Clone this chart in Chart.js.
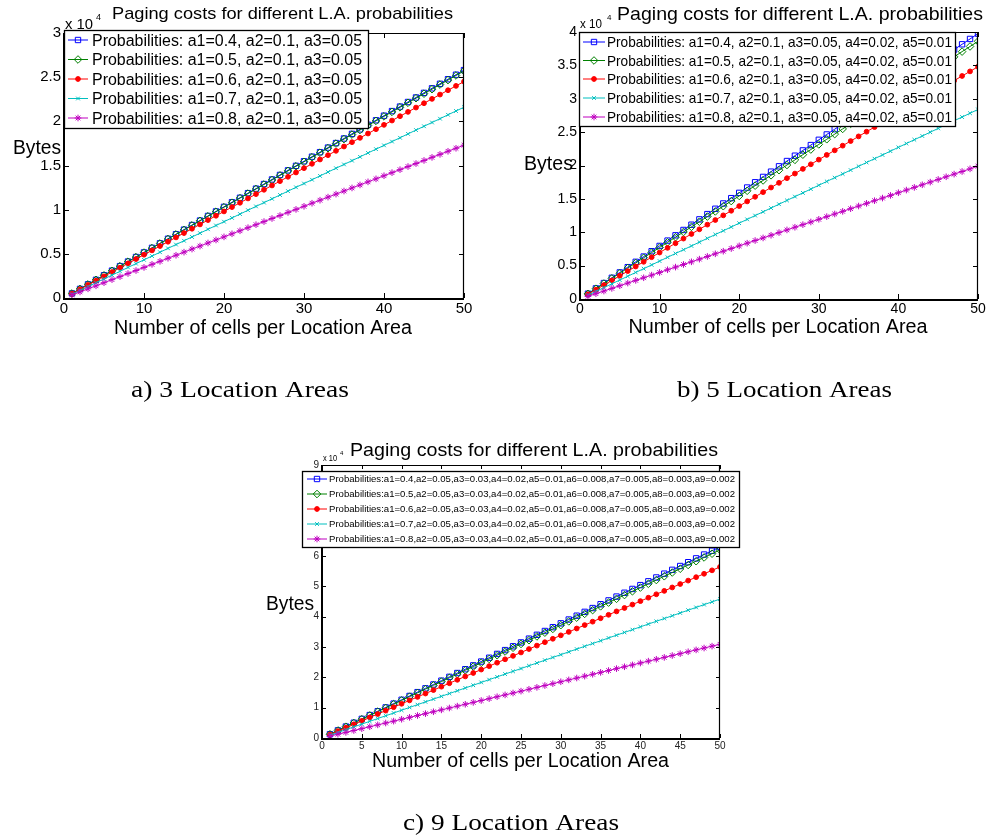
<!DOCTYPE html>
<html><head><meta charset="utf-8">
<script src="https://cdn.jsdelivr.net/npm/chart.js@4/dist/chart.umd.min.js"></script>
<style>
html,body{margin:0;padding:0;background:#fff;}
body{width:989px;height:839px;position:relative;overflow:hidden;}
canvas{position:absolute;}
</style></head><body>
<canvas id="bg" width="989" height="839" style="left:0;top:0"></canvas>
<canvas id="ca" width="494" height="350" style="left:0;top:0"></canvas>
<canvas id="cb" width="495" height="350" style="left:494px;top:0"></canvas>
<canvas id="cc" width="510" height="350" style="left:240px;top:430px"></canvas>
<script>
// ---------------- DATA ----------------
const cells = [1,2,3,4,5,6,7,8,9,10,11,12,13,14,15,16,17,18,19,20,21,22,23,24,25,26,27,28,29,30,31,32,33,34,35,36,37,38,39,40,41,42,43,44,45,46,47,48,49,50];

const chartTitle = "Paging costs for different L.A. probabilities";
const xAxisTitle = "Number of cells per Location Area";
const yAxisTitle = "Bytes";
const captions = ["a) 3 Location Areas", "b) 5 Location Areas", "c) 9 Location Areas"];

const labels3 = [
  "Probabilities: a1=0.4, a2=0.1, a3=0.05",
  "Probabilities: a1=0.5, a2=0.1, a3=0.05",
  "Probabilities: a1=0.6, a2=0.1, a3=0.05",
  "Probabilities: a1=0.7, a2=0.1, a3=0.05",
  "Probabilities: a1=0.8, a2=0.1, a3=0.05"
];
const labels5 = [
  "Probabilities: a1=0.4, a2=0.1, a3=0.05, a4=0.02, a5=0.01",
  "Probabilities: a1=0.5, a2=0.1, a3=0.05, a4=0.02, a5=0.01",
  "Probabilities: a1=0.6, a2=0.1, a3=0.05, a4=0.02, a5=0.01",
  "Probabilities: a1=0.7, a2=0.1, a3=0.05, a4=0.02, a5=0.01",
  "Probabilities: a1=0.8, a2=0.1, a3=0.05, a4=0.02, a5=0.01"
];
const labels9 = [
  "Probabilities:a1=0.4,a2=0.05,a3=0.03,a4=0.02,a5=0.01,a6=0.008,a7=0.005,a8=0.003,a9=0.002",
  "Probabilities:a1=0.5,a2=0.05,a3=0.03,a4=0.02,a5=0.01,a6=0.008,a7=0.005,a8=0.003,a9=0.002",
  "Probabilities:a1=0.6,a2=0.05,a3=0.03,a4=0.02,a5=0.01,a6=0.008,a7=0.005,a8=0.003,a9=0.002",
  "Probabilities:a1=0.7,a2=0.05,a3=0.03,a4=0.02,a5=0.01,a6=0.008,a7=0.005,a8=0.003,a9=0.002",
  "Probabilities:a1=0.8,a2=0.05,a3=0.03,a4=0.02,a5=0.01,a6=0.008,a7=0.005,a8=0.003,a9=0.002"
];

// (a) 3 Location Areas, paging cost in bytes
const la3_p4 = [520,1030,1550,2060,2580,3100,3610,4130,4640,5160,5680,6190,6710,7220,7740,8260,8770,9290,9800,10320,10840,11350,11870,12380,12900,13420,13930,14450,14960,15480,16000,16510,17030,17540,18060,18580,19090,19610,20120,20640,21160,21670,22190,22700,23220,23740,24250,24770,25280,25800];
const la3_p5 = [510,1030,1540,2060,2570,3080,3600,4110,4630,5140,5650,6170,6680,7200,7710,8220,8740,9250,9770,10280,10790,11310,11820,12340,12850,13360,13880,14390,14910,15420,15930,16450,16960,17480,17990,18500,19020,19530,20050,20560,21070,21590,22100,22620,23130,23640,24160,24670,25190,25700];
const la3_p6 = [490,980,1470,1960,2450,2940,3430,3920,4410,4900,5390,5880,6370,6860,7350,7840,8330,8820,9310,9800,10290,10780,11270,11760,12250,12740,13230,13720,14210,14700,15190,15680,16170,16660,17150,17640,18130,18620,19110,19600,20090,20580,21070,21560,22050,22540,23030,23520,24010,24500];
const la3_p7 = [430,860,1300,1730,2160,2590,3020,3460,3890,4320,4750,5180,5620,6050,6480,6910,7340,7780,8210,8640,9070,9500,9940,10370,10800,11230,11660,12100,12530,12960,13390,13820,14260,14690,15120,15550,15980,16420,16850,17280,17710,18140,18580,19010,19440,19870,20300,20740,21170,21600];
const la3_p8 = [350,690,1040,1380,1730,2080,2420,2770,3110,3460,3810,4150,4500,4840,5190,5540,5880,6230,6570,6920,7270,7610,7960,8300,8650,9000,9340,9690,10030,10380,10730,11070,11420,11760,12110,12460,12800,13150,13490,13840,14190,14530,14880,15220,15570,15920,16260,16610,16950,17300];

// (b) 5 Location Areas
const la5_p4 = [800,1590,2390,3180,3980,4770,5570,6360,7160,7950,8750,9540,10340,11130,11930,12720,13520,14310,15110,15900,16700,17490,18290,19080,19880,20670,21470,22260,23060,23850,24650,25440,26240,27030,27830,28620,29420,30210,31010,31800,32600,33390,34190,34980,35780,36570,37370,38160,38960,39750];
const la5_p5 = [770,1540,2320,3090,3860,4630,5400,6180,6950,7720,8490,9260,10040,10810,11580,12350,13120,13900,14670,15440,16210,16980,17760,18530,19300,20070,20840,21620,22390,23160,23930,24700,25480,26250,27020,27790,28560,29340,30110,30880,31650,32420,33200,33970,34740,35510,36280,37060,37830,38600];
const la5_p6 = [700,1390,2090,2780,3480,4180,4870,5570,6260,6960,7660,8350,9050,9740,10440,11140,11830,12530,13220,13920,14620,15310,16010,16700,17400,18100,18790,19490,20180,20880,21580,22270,22970,23660,24360,25060,25750,26450,27140,27840,28540,29230,29930,30620,31320,32020,32710,33410,34100,34800];
const la5_p7 = [570,1140,1700,2270,2840,3410,3980,4540,5110,5680,6250,6820,7380,7950,8520,9090,9660,10220,10790,11360,11930,12500,13060,13630,14200,14770,15340,15900,16470,17040,17610,18180,18740,19310,19880,20450,21020,21580,22150,22720,23290,23860,24420,24990,25560,26130,26700,27260,27830,28400];
const la5_p8 = [400,800,1190,1590,1990,2390,2790,3180,3580,3980,4380,4780,5170,5570,5970,6370,6770,7160,7560,7960,8360,8760,9150,9550,9950,10350,10750,11140,11540,11940,12340,12740,13130,13530,13930,14330,14730,15120,15520,15920,16320,16720,17110,17510,17910,18310,18710,19100,19500,19900];

// (c) 9 Location Areas
const la9_p4 = [1260,2520,3780,5040,6300,7560,8820,10080,11340,12600,13860,15120,16380,17640,18900,20160,21420,22680,23940,25200,26460,27720,28980,30240,31500,32760,34020,35280,36540,37800,39060,40320,41580,42840,44100,45360,46620,47880,49140,50400,51660,52920,54180,55440,56700,57960,59220,60480,61740,63000];
const la9_p5 = [1240,2480,3720,4960,6200,7440,8680,9920,11160,12400,13640,14880,16120,17360,18600,19840,21080,22320,23560,24800,26040,27280,28520,29760,31000,32240,33480,34720,35960,37200,38440,39680,40920,42160,43400,44640,45880,47120,48360,49600,50840,52080,53320,54560,55800,57040,58280,59520,60760,62000];
const la9_p6 = [1130,2260,3380,4510,5640,6770,7900,9020,10150,11280,12410,13540,14660,15790,16920,18050,19180,20300,21430,22560,23690,24820,25940,27070,28200,29330,30460,31580,32710,33840,34970,36100,37220,38350,39480,40610,41740,42860,43990,45120,46250,47380,48500,49630,50760,51890,53020,54140,55270,56400];
const la9_p7 = [920,1830,2750,3660,4580,5500,6410,7330,8240,9160,10080,10990,11910,12820,13740,14660,15570,16490,17400,18320,19240,20150,21070,21980,22900,23820,24730,25650,26560,27480,28400,29310,30230,31140,32060,32980,33890,34810,35720,36640,37560,38470,39390,40300,41220,42140,43050,43970,44880,45800];
const la9_p8 = [620,1240,1850,2470,3090,3710,4330,4940,5560,6180,6800,7420,8030,8650,9270,9890,10510,11120,11740,12360,12980,13600,14210,14830,15450,16070,16690,17300,17920,18540,19160,19780,20390,21010,21630,22250,22870,23480,24100,24720,25340,25960,26570,27190,27810,28430,29050,29660,30280,30900];

// ---------------- STYLE / LAYOUT ----------------
const SANS = '"Liberation Sans", Arial, Helvetica, sans-serif';
const SERIF = '"Liberation Serif", "Times New Roman", serif';
const seriesStyles = [
  {color:'#0000ff', style:'rect',     r:3.8, fill:'rgba(0,0,0,0)'},
  {color:'#008000', style:'rectRot',  r:3.8, fill:'rgba(0,0,0,0)'},
  {color:'#ff0000', style:'circle',   r:2.4, fill:'#ff0000'},
  {color:'#00bfbf', style:'crossRot', r:2.6, fill:'#00bfbf'},
  {color:'#bf00bf', style:'star',     r:3.3, fill:'#bf00bf'}
];

Chart.defaults.font.family = SANS;

function txt(ctx, s, x, y, size, w, align, family, color, baseline) {
  ctx.save();
  ctx.font = size + 'px ' + (family || SANS);
  ctx.fillStyle = color || '#000';
  ctx.textBaseline = baseline || 'alphabetic';
  ctx.textAlign = 'left';
  const m = ctx.measureText(s).width;
  const k = w ? w / m : 1;
  let x0 = x;
  if (align === 'center') x0 = x - m * k / 2;
  ctx.translate(x0, y);
  ctx.scale(k, 1);
  ctx.fillText(s, 0, 0);
  ctx.restore();
}

function marker(ctx, st, x, y) {
  const r = st.r;
  ctx.save();
  ctx.beginPath();
  if (st.style === 'rect') { const s = r * Math.SQRT1_2; ctx.rect(x - s, y - s, 2 * s, 2 * s); }
  else if (st.style === 'rectRot') { ctx.moveTo(x, y - r); ctx.lineTo(x + r, y); ctx.lineTo(x, y + r); ctx.lineTo(x - r, y); ctx.closePath(); }
  else if (st.style === 'circle') { ctx.arc(x, y, r, 0, Math.PI * 2); ctx.fillStyle = st.fill; ctx.fill(); }
  else if (st.style === 'crossRot') { const d = r * Math.SQRT1_2; ctx.moveTo(x - d, y - d); ctx.lineTo(x + d, y + d); ctx.moveTo(x + d, y - d); ctx.lineTo(x - d, y + d); }
  else if (st.style === 'star') { const d = r * Math.SQRT1_2; ctx.moveTo(x - r, y); ctx.lineTo(x + r, y); ctx.moveTo(x, y - r); ctx.lineTo(x, y + r); ctx.moveTo(x - d, y - d); ctx.lineTo(x + d, y + d); ctx.moveTo(x + d, y - d); ctx.lineTo(x - d, y + d); }
  ctx.strokeStyle = st.color; ctx.lineWidth = 1; ctx.stroke();
  ctx.restore();
}

const overlay = {
  id: 'overlay',
  afterDraw(chart, args, o) {
    const sp = o.spec; if (!sp) return;
    const ctx = chart.ctx, ca = chart.chartArea;
    const ox = sp.ox, oy = sp.oy;
    const P = (x, y) => [x - ox, y - oy];
    ctx.save();
    ctx.strokeStyle = '#000';
    const L = Math.round(ca.left), R = Math.round(ca.right), T = Math.round(ca.top), B = Math.round(ca.bottom);
    ctx.lineWidth = 1.2;
    ctx.beginPath(); ctx.moveTo(L, T + 0.5); ctx.lineTo(R, T + 0.5); ctx.moveTo(R - 0.5, T); ctx.lineTo(R - 0.5, B); ctx.stroke();
    ctx.lineWidth = 2;
    ctx.beginPath(); ctx.moveTo(L, T); ctx.lineTo(L, B + 1); ctx.lineTo(R, B + 1); ctx.stroke();
    const xs = chart.scales.x, ys = chart.scales.y, tl = sp.tickLen;
    ctx.lineWidth = 1;
    ctx.beginPath();
    xs.ticks.forEach(t => {
      const p = Math.round(xs.getPixelForValue(t.value)) + 0.5;
      ctx.moveTo(p, B); ctx.lineTo(p, B - tl);
      ctx.moveTo(p, T); ctx.lineTo(p, T + tl);
    });
    ys.ticks.forEach(t => {
      const p = Math.round(ys.getPixelForValue(t.value)) + 0.5;
      ctx.moveTo(L, p); ctx.lineTo(L + tl, p);
      ctx.moveTo(R, p); ctx.lineTo(R - tl, p);
    });
    ctx.stroke();
    let q = P(sp.exp.x, sp.exp.y); txt(ctx, 'x 10', q[0], q[1], sp.exp.size, sp.exp.w);
    q = P(sp.exp.sx, sp.exp.sy); txt(ctx, '4', q[0], q[1], sp.exp.ssize);
    q = P(sp.title.x, sp.title.y); txt(ctx, chartTitle, q[0], q[1], sp.title.size, sp.title.w);
    q = P(sp.xTitle.cx, sp.xTitle.y); txt(ctx, xAxisTitle, q[0], q[1], sp.xTitle.size, sp.xTitle.w, 'center');
    q = P(sp.bytes.x, sp.bytes.y); txt(ctx, yAxisTitle, q[0], q[1], sp.bytes.size, sp.bytes.w);
    const lg = sp.legend;
    const b0 = P(lg.box[0], lg.box[1]), b1 = P(lg.box[2], lg.box[3]);
    ctx.fillStyle = '#fff';
    ctx.fillRect(b0[0], b0[1], b1[0] - b0[0], b1[1] - b0[1]);
    ctx.lineWidth = 1.3; ctx.strokeStyle = '#000';
    ctx.strokeRect(Math.round(b0[0]) + 0.5, Math.round(b0[1]) + 0.5, Math.round(b1[0] - b0[0]), Math.round(b1[1] - b0[1]));
    chart.data.datasets.forEach((ds, i) => {
      const st = seriesStyles[i];
      const yy = lg.rows[i] - oy;
      const x1 = lg.lx1 - ox, x2 = lg.lx2 - ox;
      ctx.beginPath(); ctx.strokeStyle = st.color; ctx.lineWidth = 1;
      ctx.moveTo(x1, yy); ctx.lineTo(x2, yy); ctx.stroke();
      marker(ctx, st, (x1 + x2) / 2, yy);
      txt(ctx, ds.label, lg.tx - ox, yy + lg.size * 0.36, lg.size, lg.w);
    });
    ctx.restore();
  }
};

function build(id, spec, labels, series, yMax, yStep, xStep, tickSize, tickColor) {
  const canvas = document.getElementById(id);
  const W = canvas.width, H = canvas.height;
  const a = spec.area;
  const datasets = series.map((vals, i) => {
    const st = seriesStyles[i];
    return {
      label: labels[i],
      data: cells.map((c, j) => ({x: c, y: vals[j]})),
      borderColor: st.color, borderWidth: 1,
      pointStyle: st.style, pointRadius: st.r,
      pointBorderColor: st.color, pointBackgroundColor: st.fill, pointBorderWidth: 1,
      tension: 0, order: 10 - i, fill: false
    };
  });
  return new Chart(canvas.getContext('2d'), {
    type: 'line',
    data: {datasets},
    options: {
      responsive: false, animation: false, events: [],
      layout: {autoPadding: false, padding: {left: 0, top: a.t - spec.oy, right: W - (a.r - spec.ox), bottom: 0}},
      plugins: {legend: {display: false}, title: {display: false}, tooltip: {enabled: false}, overlay: {spec}},
      scales: {
        x: {type: 'linear', min: 0, max: 50,
            ticks: {stepSize: xStep, font: {size: tickSize, family: SANS}, color: tickColor, padding: 2, maxRotation: 0, autoSkip: false},
            grid: {display: false, drawTicks: false}, border: {display: false},
            afterFit(s) { s.height = H - (a.b - spec.oy); }},
        y: {type: 'linear', min: 0, max: yMax,
            ticks: {stepSize: yStep, font: {size: tickSize, family: SANS}, color: tickColor, padding: 3, autoSkip: false,
                    callback: v => String(v / 10000)},
            grid: {display: false, drawTicks: false}, border: {display: false},
            afterFit(s) { s.width = a.l - spec.ox; }}
      }
    },
    plugins: [overlay]
  });
}

const specA = {
  ox: 0, oy: 0, area: {l: 64, t: 33, r: 464, b: 298}, tickLen: 5,
  title: {x: 112, y: 19, size: 17, w: 341},
  xTitle: {cx: 263, y: 334, size: 20, w: 298},
  bytes: {x: 13, y: 154, size: 19.5, w: 48},
  exp: {x: 65, y: 29, size: 14, w: 28, sx: 96, sy: 20, ssize: 9},
  legend: {box: [64, 30, 368, 128], rows: [40, 59.5, 79, 98.5, 118], lx1: 68, lx2: 88, tx: 92, size: 16, w: 270}
};
const specB = {
  ox: 494, oy: 0, area: {l: 580, t: 32, r: 978, b: 299}, tickLen: 5,
  title: {x: 617, y: 19.5, size: 18.5, w: 366},
  xTitle: {cx: 778, y: 333, size: 20, w: 299},
  bytes: {x: 524, y: 170, size: 19.5, w: 49},
  exp: {x: 580, y: 28, size: 12, w: 22, sx: 607, sy: 20, ssize: 8},
  legend: {box: [579, 32, 955, 126], rows: [42, 60.5, 79, 98, 117], lx1: 583, lx2: 605, tx: 607, size: 15, w: 345}
};
const specC = {
  ox: 240, oy: 430, area: {l: 322, t: 465, r: 720, b: 738}, tickLen: 4,
  title: {x: 350, y: 456, size: 18.5, w: 368},
  xTitle: {cx: 520.5, y: 767, size: 20, w: 297},
  bytes: {x: 266, y: 610, size: 19.5, w: 48},
  exp: {x: 323, y: 461, size: 8.5, w: 14, sx: 340, sy: 455, ssize: 6},
  legend: {box: [302, 471, 739, 547], rows: [479, 494, 509, 524, 539], lx1: 307, lx2: 327, tx: 329, size: 9.5, w: 406}
};

build('ca', specA, labels3, [la3_p4, la3_p5, la3_p6, la3_p7, la3_p8], 30000, 5000, 10, 15, '#000');
build('cb', specB, labels5, [la5_p4, la5_p5, la5_p6, la5_p7, la5_p8], 40000, 5000, 10, 14, '#000');
build('cc', specC, labels9, [la9_p4, la9_p5, la9_p6, la9_p7, la9_p8], 90000, 10000, 5, 10, '#222');

// captions
const bg = document.getElementById('bg').getContext('2d');
txt(bg, captions[0], 131, 397, 23, 218, 'left', SERIF);
txt(bg, captions[1], 677, 397, 23, 215, 'left', SERIF);
txt(bg, captions[2], 403, 830, 23, 216, 'left', SERIF);
</script>
</body></html>
